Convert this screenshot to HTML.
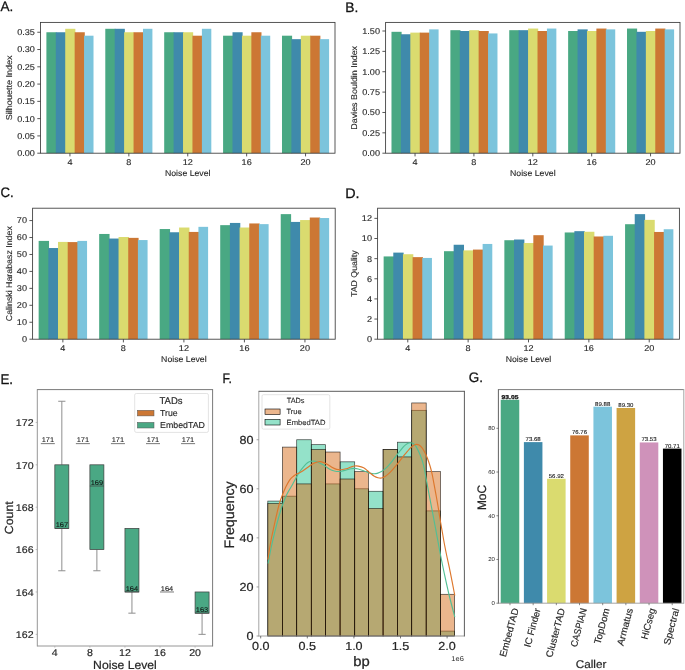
<!DOCTYPE html>
<html><head><meta charset="utf-8"><title>Figure</title>
<style>html,body{margin:0;padding:0;background:#fff;width:685px;height:670px;overflow:hidden;}
svg{display:block;will-change:transform;}text{font-family:"Liberation Sans",sans-serif;text-rendering:geometricPrecision;}</style></head>
<body>
<svg width="685" height="670" viewBox="0 0 685 670" font-family="Liberation Sans, sans-serif">
<rect x="0" y="0" width="685" height="670" fill="#ffffff"/>
<text x="0.4" y="10.6" font-size="13.78" text-anchor="start" fill="#111" textLength="12.8" lengthAdjust="spacingAndGlyphs" stroke="#111" stroke-width="0.26">A.</text>
<rect x="46.39" y="32.25" width="10.12" height="120.95" fill="#49a883"/>
<rect x="55.81" y="32.25" width="10.12" height="120.95" fill="#3f8aab"/>
<rect x="65.24" y="28.79" width="10.12" height="124.41" fill="#dadb6f"/>
<rect x="74.66" y="32.25" width="10.12" height="120.95" fill="#cc7734"/>
<rect x="84.09" y="35.7" width="9.42" height="117.5" fill="#7cc4dc"/>
<rect x="105.29" y="28.79" width="10.12" height="124.41" fill="#49a883"/>
<rect x="114.71" y="28.79" width="10.12" height="124.41" fill="#3f8aab"/>
<rect x="124.14" y="32.25" width="10.12" height="120.95" fill="#dadb6f"/>
<rect x="133.56" y="32.25" width="10.12" height="120.95" fill="#cc7734"/>
<rect x="142.99" y="28.79" width="9.42" height="124.41" fill="#7cc4dc"/>
<rect x="164.19" y="32.25" width="10.12" height="120.95" fill="#49a883"/>
<rect x="173.61" y="32.25" width="10.12" height="120.95" fill="#3f8aab"/>
<rect x="183.04" y="32.25" width="10.12" height="120.95" fill="#dadb6f"/>
<rect x="192.46" y="35.7" width="10.12" height="117.5" fill="#cc7734"/>
<rect x="201.89" y="28.79" width="9.42" height="124.41" fill="#7cc4dc"/>
<rect x="223.09" y="35.7" width="10.12" height="117.5" fill="#49a883"/>
<rect x="232.51" y="32.25" width="10.12" height="120.95" fill="#3f8aab"/>
<rect x="241.94" y="35.7" width="10.12" height="117.5" fill="#dadb6f"/>
<rect x="251.36" y="32.25" width="10.12" height="120.95" fill="#cc7734"/>
<rect x="260.79" y="35.7" width="9.42" height="117.5" fill="#7cc4dc"/>
<rect x="281.99" y="35.7" width="10.12" height="117.5" fill="#49a883"/>
<rect x="291.41" y="39.16" width="10.12" height="114.04" fill="#3f8aab"/>
<rect x="300.84" y="35.7" width="10.12" height="117.5" fill="#dadb6f"/>
<rect x="310.26" y="35.7" width="10.12" height="117.5" fill="#cc7734"/>
<rect x="319.69" y="39.16" width="9.42" height="114.04" fill="#7cc4dc"/>
<rect x="40.5" y="22.4" width="294.5" height="130.8" fill="none" stroke="#3a3a3a" stroke-width="0.85"/>
<line x1="37.3" y1="153.2" x2="40.5" y2="153.2" stroke="#3a3a3a" stroke-width="0.85"/>
<text x="34.9" y="156.1" font-size="8.43" text-anchor="end" fill="#262626" textLength="17.7" lengthAdjust="spacingAndGlyphs" stroke="#262626" stroke-width="0.12">0.00</text>
<line x1="37.3" y1="135.92" x2="40.5" y2="135.92" stroke="#3a3a3a" stroke-width="0.85"/>
<text x="34.9" y="138.82" font-size="8.43" text-anchor="end" fill="#262626" textLength="17.7" lengthAdjust="spacingAndGlyphs" stroke="#262626" stroke-width="0.12">0.05</text>
<line x1="37.3" y1="118.64" x2="40.5" y2="118.64" stroke="#3a3a3a" stroke-width="0.85"/>
<text x="34.9" y="121.54" font-size="8.43" text-anchor="end" fill="#262626" textLength="17.7" lengthAdjust="spacingAndGlyphs" stroke="#262626" stroke-width="0.12">0.10</text>
<line x1="37.3" y1="101.36" x2="40.5" y2="101.36" stroke="#3a3a3a" stroke-width="0.85"/>
<text x="34.9" y="104.26" font-size="8.43" text-anchor="end" fill="#262626" textLength="17.7" lengthAdjust="spacingAndGlyphs" stroke="#262626" stroke-width="0.12">0.15</text>
<line x1="37.3" y1="84.09" x2="40.5" y2="84.09" stroke="#3a3a3a" stroke-width="0.85"/>
<text x="34.9" y="86.98" font-size="8.43" text-anchor="end" fill="#262626" textLength="17.7" lengthAdjust="spacingAndGlyphs" stroke="#262626" stroke-width="0.12">0.20</text>
<line x1="37.3" y1="66.81" x2="40.5" y2="66.81" stroke="#3a3a3a" stroke-width="0.85"/>
<text x="34.9" y="69.7" font-size="8.43" text-anchor="end" fill="#262626" textLength="17.7" lengthAdjust="spacingAndGlyphs" stroke="#262626" stroke-width="0.12">0.25</text>
<line x1="37.3" y1="49.53" x2="40.5" y2="49.53" stroke="#3a3a3a" stroke-width="0.85"/>
<text x="34.9" y="52.43" font-size="8.43" text-anchor="end" fill="#262626" textLength="17.7" lengthAdjust="spacingAndGlyphs" stroke="#262626" stroke-width="0.12">0.30</text>
<line x1="37.3" y1="32.25" x2="40.5" y2="32.25" stroke="#3a3a3a" stroke-width="0.85"/>
<text x="34.9" y="35.15" font-size="8.43" text-anchor="end" fill="#262626" textLength="17.7" lengthAdjust="spacingAndGlyphs" stroke="#262626" stroke-width="0.12">0.35</text>
<line x1="69.95" y1="153.2" x2="69.95" y2="156.4" stroke="#3a3a3a" stroke-width="0.85"/>
<text x="69.95" y="165.2" font-size="8.43" text-anchor="middle" fill="#262626" textLength="5.06" lengthAdjust="spacingAndGlyphs" stroke="#262626" stroke-width="0.12">4</text>
<line x1="128.85" y1="153.2" x2="128.85" y2="156.4" stroke="#3a3a3a" stroke-width="0.85"/>
<text x="128.85" y="165.2" font-size="8.43" text-anchor="middle" fill="#262626" textLength="5.06" lengthAdjust="spacingAndGlyphs" stroke="#262626" stroke-width="0.12">8</text>
<line x1="187.75" y1="153.2" x2="187.75" y2="156.4" stroke="#3a3a3a" stroke-width="0.85"/>
<text x="187.75" y="165.2" font-size="8.43" text-anchor="middle" fill="#262626" textLength="10.12" lengthAdjust="spacingAndGlyphs" stroke="#262626" stroke-width="0.12">12</text>
<line x1="246.65" y1="153.2" x2="246.65" y2="156.4" stroke="#3a3a3a" stroke-width="0.85"/>
<text x="246.65" y="165.2" font-size="8.43" text-anchor="middle" fill="#262626" textLength="10.12" lengthAdjust="spacingAndGlyphs" stroke="#262626" stroke-width="0.12">16</text>
<line x1="305.55" y1="153.2" x2="305.55" y2="156.4" stroke="#3a3a3a" stroke-width="0.85"/>
<text x="305.55" y="165.2" font-size="8.43" text-anchor="middle" fill="#262626" textLength="10.12" lengthAdjust="spacingAndGlyphs" stroke="#262626" stroke-width="0.12">20</text>
<text x="187.75" y="175.6" font-size="8.43" text-anchor="middle" fill="#262626" textLength="45.56" lengthAdjust="spacingAndGlyphs" stroke="#262626" stroke-width="0.12">Noise Level</text>
<text x="12.2" y="87.8" font-size="8.43" text-anchor="middle" fill="#262626" textLength="64.84" lengthAdjust="spacingAndGlyphs" stroke="#262626" stroke-width="0.12" transform="rotate(-90 12.2 87.8)">Silhouette Index</text>
<text x="345.2" y="11.9" font-size="13.78" text-anchor="start" fill="#111" textLength="13.05" lengthAdjust="spacingAndGlyphs" stroke="#111" stroke-width="0.26">B.</text>
<rect x="391.49" y="31.81" width="10.12" height="121.39" fill="#49a883"/>
<rect x="400.91" y="34.25" width="10.12" height="118.95" fill="#3f8aab"/>
<rect x="410.33" y="32.62" width="10.12" height="120.58" fill="#dadb6f"/>
<rect x="419.75" y="32.62" width="10.12" height="120.58" fill="#cc7734"/>
<rect x="429.17" y="29.37" width="9.42" height="123.83" fill="#7cc4dc"/>
<rect x="450.37" y="30.18" width="10.12" height="123.02" fill="#49a883"/>
<rect x="459.79" y="31" width="10.12" height="122.2" fill="#3f8aab"/>
<rect x="469.21" y="30.18" width="10.12" height="123.02" fill="#dadb6f"/>
<rect x="478.63" y="31" width="10.12" height="122.2" fill="#cc7734"/>
<rect x="488.05" y="33.44" width="9.42" height="119.76" fill="#7cc4dc"/>
<rect x="509.25" y="30.18" width="10.12" height="123.02" fill="#49a883"/>
<rect x="518.67" y="30.18" width="10.12" height="123.02" fill="#3f8aab"/>
<rect x="528.09" y="28.55" width="10.12" height="124.65" fill="#dadb6f"/>
<rect x="537.51" y="31" width="10.12" height="122.2" fill="#cc7734"/>
<rect x="546.93" y="28.55" width="9.42" height="124.65" fill="#7cc4dc"/>
<rect x="568.13" y="31" width="10.12" height="122.2" fill="#49a883"/>
<rect x="577.55" y="29.37" width="10.12" height="123.83" fill="#3f8aab"/>
<rect x="586.97" y="31" width="10.12" height="122.2" fill="#dadb6f"/>
<rect x="596.39" y="28.55" width="10.12" height="124.65" fill="#cc7734"/>
<rect x="605.81" y="29.37" width="9.42" height="123.83" fill="#7cc4dc"/>
<rect x="627.01" y="28.55" width="10.12" height="124.65" fill="#49a883"/>
<rect x="636.43" y="31.81" width="10.12" height="121.39" fill="#3f8aab"/>
<rect x="645.85" y="31" width="10.12" height="122.2" fill="#dadb6f"/>
<rect x="655.27" y="28.55" width="10.12" height="124.65" fill="#cc7734"/>
<rect x="664.69" y="29.37" width="9.42" height="123.83" fill="#7cc4dc"/>
<rect x="385.6" y="22.4" width="294.4" height="130.8" fill="none" stroke="#3a3a3a" stroke-width="0.85"/>
<line x1="382.4" y1="153.2" x2="385.6" y2="153.2" stroke="#3a3a3a" stroke-width="0.85"/>
<text x="380" y="156.1" font-size="8.43" text-anchor="end" fill="#262626" textLength="17.7" lengthAdjust="spacingAndGlyphs" stroke="#262626" stroke-width="0.12">0.00</text>
<line x1="382.4" y1="132.83" x2="385.6" y2="132.83" stroke="#3a3a3a" stroke-width="0.85"/>
<text x="380" y="135.73" font-size="8.43" text-anchor="end" fill="#262626" textLength="17.7" lengthAdjust="spacingAndGlyphs" stroke="#262626" stroke-width="0.12">0.25</text>
<line x1="382.4" y1="112.47" x2="385.6" y2="112.47" stroke="#3a3a3a" stroke-width="0.85"/>
<text x="380" y="115.36" font-size="8.43" text-anchor="end" fill="#262626" textLength="17.7" lengthAdjust="spacingAndGlyphs" stroke="#262626" stroke-width="0.12">0.50</text>
<line x1="382.4" y1="92.1" x2="385.6" y2="92.1" stroke="#3a3a3a" stroke-width="0.85"/>
<text x="380" y="95" font-size="8.43" text-anchor="end" fill="#262626" textLength="17.7" lengthAdjust="spacingAndGlyphs" stroke="#262626" stroke-width="0.12">0.75</text>
<line x1="382.4" y1="71.73" x2="385.6" y2="71.73" stroke="#3a3a3a" stroke-width="0.85"/>
<text x="380" y="74.63" font-size="8.43" text-anchor="end" fill="#262626" textLength="17.7" lengthAdjust="spacingAndGlyphs" stroke="#262626" stroke-width="0.12">1.00</text>
<line x1="382.4" y1="51.36" x2="385.6" y2="51.36" stroke="#3a3a3a" stroke-width="0.85"/>
<text x="380" y="54.26" font-size="8.43" text-anchor="end" fill="#262626" textLength="17.7" lengthAdjust="spacingAndGlyphs" stroke="#262626" stroke-width="0.12">1.25</text>
<line x1="382.4" y1="31" x2="385.6" y2="31" stroke="#3a3a3a" stroke-width="0.85"/>
<text x="380" y="33.89" font-size="8.43" text-anchor="end" fill="#262626" textLength="17.7" lengthAdjust="spacingAndGlyphs" stroke="#262626" stroke-width="0.12">1.50</text>
<line x1="415.04" y1="153.2" x2="415.04" y2="156.4" stroke="#3a3a3a" stroke-width="0.85"/>
<text x="415.04" y="165.2" font-size="8.43" text-anchor="middle" fill="#262626" textLength="5.06" lengthAdjust="spacingAndGlyphs" stroke="#262626" stroke-width="0.12">4</text>
<line x1="473.92" y1="153.2" x2="473.92" y2="156.4" stroke="#3a3a3a" stroke-width="0.85"/>
<text x="473.92" y="165.2" font-size="8.43" text-anchor="middle" fill="#262626" textLength="5.06" lengthAdjust="spacingAndGlyphs" stroke="#262626" stroke-width="0.12">8</text>
<line x1="532.8" y1="153.2" x2="532.8" y2="156.4" stroke="#3a3a3a" stroke-width="0.85"/>
<text x="532.8" y="165.2" font-size="8.43" text-anchor="middle" fill="#262626" textLength="10.12" lengthAdjust="spacingAndGlyphs" stroke="#262626" stroke-width="0.12">12</text>
<line x1="591.68" y1="153.2" x2="591.68" y2="156.4" stroke="#3a3a3a" stroke-width="0.85"/>
<text x="591.68" y="165.2" font-size="8.43" text-anchor="middle" fill="#262626" textLength="10.12" lengthAdjust="spacingAndGlyphs" stroke="#262626" stroke-width="0.12">16</text>
<line x1="650.56" y1="153.2" x2="650.56" y2="156.4" stroke="#3a3a3a" stroke-width="0.85"/>
<text x="650.56" y="165.2" font-size="8.43" text-anchor="middle" fill="#262626" textLength="10.12" lengthAdjust="spacingAndGlyphs" stroke="#262626" stroke-width="0.12">20</text>
<text x="532.8" y="175.6" font-size="8.43" text-anchor="middle" fill="#262626" textLength="45.56" lengthAdjust="spacingAndGlyphs" stroke="#262626" stroke-width="0.12">Noise Level</text>
<text x="357.2" y="87.8" font-size="8.43" text-anchor="middle" fill="#262626" textLength="83.74" lengthAdjust="spacingAndGlyphs" stroke="#262626" stroke-width="0.12" transform="rotate(-90 357.2 87.8)">Davies Bouldin Index</text>
<text x="0.4" y="197.2" font-size="13.78" text-anchor="start" fill="#111" textLength="13.21" lengthAdjust="spacingAndGlyphs" stroke="#111" stroke-width="0.26">C.</text>
<rect x="38.65" y="240.91" width="10.38" height="98.29" fill="#49a883"/>
<rect x="48.34" y="248.03" width="10.38" height="91.17" fill="#3f8aab"/>
<rect x="58.02" y="241.92" width="10.38" height="97.28" fill="#dadb6f"/>
<rect x="67.7" y="242.09" width="10.38" height="97.11" fill="#cc7734"/>
<rect x="77.38" y="240.91" width="9.68" height="98.29" fill="#7cc4dc"/>
<rect x="99.17" y="233.96" width="10.38" height="105.24" fill="#49a883"/>
<rect x="108.86" y="238.54" width="10.38" height="100.66" fill="#3f8aab"/>
<rect x="118.54" y="237.01" width="10.38" height="102.19" fill="#dadb6f"/>
<rect x="128.22" y="237.86" width="10.38" height="101.34" fill="#cc7734"/>
<rect x="137.9" y="240.06" width="9.68" height="99.14" fill="#7cc4dc"/>
<rect x="159.69" y="229.04" width="10.38" height="110.16" fill="#49a883"/>
<rect x="169.38" y="232.26" width="10.38" height="106.94" fill="#3f8aab"/>
<rect x="179.06" y="227.52" width="10.38" height="111.68" fill="#dadb6f"/>
<rect x="188.74" y="231.93" width="10.38" height="107.27" fill="#cc7734"/>
<rect x="198.42" y="226.84" width="9.68" height="112.36" fill="#7cc4dc"/>
<rect x="220.21" y="225.15" width="10.38" height="114.05" fill="#49a883"/>
<rect x="229.9" y="222.94" width="10.38" height="116.26" fill="#3f8aab"/>
<rect x="239.58" y="227.52" width="10.38" height="111.68" fill="#dadb6f"/>
<rect x="249.26" y="223.45" width="10.38" height="115.75" fill="#cc7734"/>
<rect x="258.94" y="224.13" width="9.68" height="115.07" fill="#7cc4dc"/>
<rect x="280.73" y="214.13" width="10.38" height="125.07" fill="#49a883"/>
<rect x="290.42" y="221.93" width="10.38" height="117.27" fill="#3f8aab"/>
<rect x="300.1" y="220.06" width="10.38" height="119.14" fill="#dadb6f"/>
<rect x="309.78" y="217.52" width="10.38" height="121.68" fill="#cc7734"/>
<rect x="319.46" y="218.03" width="9.68" height="121.17" fill="#7cc4dc"/>
<rect x="32.6" y="208.2" width="302.6" height="131" fill="none" stroke="#3a3a3a" stroke-width="0.85"/>
<line x1="29.4" y1="339.2" x2="32.6" y2="339.2" stroke="#3a3a3a" stroke-width="0.85"/>
<text x="27" y="342.1" font-size="8.43" text-anchor="end" fill="#262626" textLength="5.06" lengthAdjust="spacingAndGlyphs" stroke="#262626" stroke-width="0.12">0</text>
<line x1="29.4" y1="322.25" x2="32.6" y2="322.25" stroke="#3a3a3a" stroke-width="0.85"/>
<text x="27" y="325.15" font-size="8.43" text-anchor="end" fill="#262626" textLength="10.12" lengthAdjust="spacingAndGlyphs" stroke="#262626" stroke-width="0.12">10</text>
<line x1="29.4" y1="305.31" x2="32.6" y2="305.31" stroke="#3a3a3a" stroke-width="0.85"/>
<text x="27" y="308.2" font-size="8.43" text-anchor="end" fill="#262626" textLength="10.12" lengthAdjust="spacingAndGlyphs" stroke="#262626" stroke-width="0.12">20</text>
<line x1="29.4" y1="288.36" x2="32.6" y2="288.36" stroke="#3a3a3a" stroke-width="0.85"/>
<text x="27" y="291.26" font-size="8.43" text-anchor="end" fill="#262626" textLength="10.12" lengthAdjust="spacingAndGlyphs" stroke="#262626" stroke-width="0.12">30</text>
<line x1="29.4" y1="271.41" x2="32.6" y2="271.41" stroke="#3a3a3a" stroke-width="0.85"/>
<text x="27" y="274.31" font-size="8.43" text-anchor="end" fill="#262626" textLength="10.12" lengthAdjust="spacingAndGlyphs" stroke="#262626" stroke-width="0.12">40</text>
<line x1="29.4" y1="254.47" x2="32.6" y2="254.47" stroke="#3a3a3a" stroke-width="0.85"/>
<text x="27" y="257.36" font-size="8.43" text-anchor="end" fill="#262626" textLength="10.12" lengthAdjust="spacingAndGlyphs" stroke="#262626" stroke-width="0.12">50</text>
<line x1="29.4" y1="237.52" x2="32.6" y2="237.52" stroke="#3a3a3a" stroke-width="0.85"/>
<text x="27" y="240.42" font-size="8.43" text-anchor="end" fill="#262626" textLength="10.12" lengthAdjust="spacingAndGlyphs" stroke="#262626" stroke-width="0.12">60</text>
<line x1="29.4" y1="220.57" x2="32.6" y2="220.57" stroke="#3a3a3a" stroke-width="0.85"/>
<text x="27" y="223.47" font-size="8.43" text-anchor="end" fill="#262626" textLength="10.12" lengthAdjust="spacingAndGlyphs" stroke="#262626" stroke-width="0.12">70</text>
<line x1="62.86" y1="339.2" x2="62.86" y2="342.4" stroke="#3a3a3a" stroke-width="0.85"/>
<text x="62.86" y="351.2" font-size="8.43" text-anchor="middle" fill="#262626" textLength="5.06" lengthAdjust="spacingAndGlyphs" stroke="#262626" stroke-width="0.12">4</text>
<line x1="123.38" y1="339.2" x2="123.38" y2="342.4" stroke="#3a3a3a" stroke-width="0.85"/>
<text x="123.38" y="351.2" font-size="8.43" text-anchor="middle" fill="#262626" textLength="5.06" lengthAdjust="spacingAndGlyphs" stroke="#262626" stroke-width="0.12">8</text>
<line x1="183.9" y1="339.2" x2="183.9" y2="342.4" stroke="#3a3a3a" stroke-width="0.85"/>
<text x="183.9" y="351.2" font-size="8.43" text-anchor="middle" fill="#262626" textLength="10.12" lengthAdjust="spacingAndGlyphs" stroke="#262626" stroke-width="0.12">12</text>
<line x1="244.42" y1="339.2" x2="244.42" y2="342.4" stroke="#3a3a3a" stroke-width="0.85"/>
<text x="244.42" y="351.2" font-size="8.43" text-anchor="middle" fill="#262626" textLength="10.12" lengthAdjust="spacingAndGlyphs" stroke="#262626" stroke-width="0.12">16</text>
<line x1="304.94" y1="339.2" x2="304.94" y2="342.4" stroke="#3a3a3a" stroke-width="0.85"/>
<text x="304.94" y="351.2" font-size="8.43" text-anchor="middle" fill="#262626" textLength="10.12" lengthAdjust="spacingAndGlyphs" stroke="#262626" stroke-width="0.12">20</text>
<text x="183.9" y="361.6" font-size="8.43" text-anchor="middle" fill="#262626" textLength="45.56" lengthAdjust="spacingAndGlyphs" stroke="#262626" stroke-width="0.12">Noise Level</text>
<text x="12.2" y="273.7" font-size="8.43" text-anchor="middle" fill="#262626" textLength="95" lengthAdjust="spacingAndGlyphs" stroke="#262626" stroke-width="0.12" transform="rotate(-90 12.2 273.7)">Calinski Harabasz Index</text>
<text x="345.2" y="197.5" font-size="13.99" text-anchor="start" fill="#111" textLength="14.36" lengthAdjust="spacingAndGlyphs" stroke="#111" stroke-width="0.26">D.</text>
<rect x="383.64" y="256.43" width="10.36" height="82.77" fill="#49a883"/>
<rect x="393.29" y="252.61" width="10.36" height="86.59" fill="#3f8aab"/>
<rect x="402.95" y="254.22" width="10.36" height="84.98" fill="#dadb6f"/>
<rect x="412.61" y="257.14" width="10.36" height="82.06" fill="#cc7734"/>
<rect x="422.27" y="257.94" width="9.66" height="81.26" fill="#7cc4dc"/>
<rect x="444" y="251.2" width="10.36" height="88" fill="#49a883"/>
<rect x="453.65" y="244.75" width="10.36" height="94.45" fill="#3f8aab"/>
<rect x="463.31" y="250.39" width="10.36" height="88.81" fill="#dadb6f"/>
<rect x="472.97" y="249.58" width="10.36" height="89.62" fill="#cc7734"/>
<rect x="482.63" y="243.95" width="9.66" height="95.25" fill="#7cc4dc"/>
<rect x="504.36" y="240.22" width="10.36" height="98.98" fill="#49a883"/>
<rect x="514.01" y="239.52" width="10.36" height="99.68" fill="#3f8aab"/>
<rect x="523.67" y="243.04" width="10.36" height="96.16" fill="#dadb6f"/>
<rect x="533.33" y="235.19" width="10.36" height="104.01" fill="#cc7734"/>
<rect x="542.99" y="245.56" width="9.66" height="93.64" fill="#7cc4dc"/>
<rect x="564.72" y="232.47" width="10.36" height="106.73" fill="#49a883"/>
<rect x="574.37" y="231.16" width="10.36" height="108.04" fill="#3f8aab"/>
<rect x="584.03" y="231.76" width="10.36" height="107.44" fill="#dadb6f"/>
<rect x="593.69" y="236.49" width="10.36" height="102.71" fill="#cc7734"/>
<rect x="603.35" y="235.79" width="9.66" height="103.41" fill="#7cc4dc"/>
<rect x="625.08" y="224.21" width="10.36" height="114.99" fill="#49a883"/>
<rect x="634.73" y="214.14" width="10.36" height="125.06" fill="#3f8aab"/>
<rect x="644.39" y="219.88" width="10.36" height="119.32" fill="#dadb6f"/>
<rect x="654.05" y="231.96" width="10.36" height="107.24" fill="#cc7734"/>
<rect x="663.71" y="229.24" width="9.66" height="109.96" fill="#7cc4dc"/>
<rect x="377.6" y="208.2" width="301.8" height="131" fill="none" stroke="#3a3a3a" stroke-width="0.85"/>
<line x1="374.4" y1="339.2" x2="377.6" y2="339.2" stroke="#3a3a3a" stroke-width="0.85"/>
<text x="372" y="342.1" font-size="8.43" text-anchor="end" fill="#262626" textLength="5.06" lengthAdjust="spacingAndGlyphs" stroke="#262626" stroke-width="0.12">0</text>
<line x1="374.4" y1="319.06" x2="377.6" y2="319.06" stroke="#3a3a3a" stroke-width="0.85"/>
<text x="372" y="321.96" font-size="8.43" text-anchor="end" fill="#262626" textLength="5.06" lengthAdjust="spacingAndGlyphs" stroke="#262626" stroke-width="0.12">2</text>
<line x1="374.4" y1="298.92" x2="377.6" y2="298.92" stroke="#3a3a3a" stroke-width="0.85"/>
<text x="372" y="301.82" font-size="8.43" text-anchor="end" fill="#262626" textLength="5.06" lengthAdjust="spacingAndGlyphs" stroke="#262626" stroke-width="0.12">4</text>
<line x1="374.4" y1="278.78" x2="377.6" y2="278.78" stroke="#3a3a3a" stroke-width="0.85"/>
<text x="372" y="281.68" font-size="8.43" text-anchor="end" fill="#262626" textLength="5.06" lengthAdjust="spacingAndGlyphs" stroke="#262626" stroke-width="0.12">6</text>
<line x1="374.4" y1="258.65" x2="377.6" y2="258.65" stroke="#3a3a3a" stroke-width="0.85"/>
<text x="372" y="261.54" font-size="8.43" text-anchor="end" fill="#262626" textLength="5.06" lengthAdjust="spacingAndGlyphs" stroke="#262626" stroke-width="0.12">8</text>
<line x1="374.4" y1="238.51" x2="377.6" y2="238.51" stroke="#3a3a3a" stroke-width="0.85"/>
<text x="372" y="241.41" font-size="8.43" text-anchor="end" fill="#262626" textLength="10.12" lengthAdjust="spacingAndGlyphs" stroke="#262626" stroke-width="0.12">10</text>
<line x1="374.4" y1="218.37" x2="377.6" y2="218.37" stroke="#3a3a3a" stroke-width="0.85"/>
<text x="372" y="221.27" font-size="8.43" text-anchor="end" fill="#262626" textLength="10.12" lengthAdjust="spacingAndGlyphs" stroke="#262626" stroke-width="0.12">12</text>
<line x1="407.78" y1="339.2" x2="407.78" y2="342.4" stroke="#3a3a3a" stroke-width="0.85"/>
<text x="407.78" y="351.2" font-size="8.43" text-anchor="middle" fill="#262626" textLength="5.06" lengthAdjust="spacingAndGlyphs" stroke="#262626" stroke-width="0.12">4</text>
<line x1="468.14" y1="339.2" x2="468.14" y2="342.4" stroke="#3a3a3a" stroke-width="0.85"/>
<text x="468.14" y="351.2" font-size="8.43" text-anchor="middle" fill="#262626" textLength="5.06" lengthAdjust="spacingAndGlyphs" stroke="#262626" stroke-width="0.12">8</text>
<line x1="528.5" y1="339.2" x2="528.5" y2="342.4" stroke="#3a3a3a" stroke-width="0.85"/>
<text x="528.5" y="351.2" font-size="8.43" text-anchor="middle" fill="#262626" textLength="10.12" lengthAdjust="spacingAndGlyphs" stroke="#262626" stroke-width="0.12">12</text>
<line x1="588.86" y1="339.2" x2="588.86" y2="342.4" stroke="#3a3a3a" stroke-width="0.85"/>
<text x="588.86" y="351.2" font-size="8.43" text-anchor="middle" fill="#262626" textLength="10.12" lengthAdjust="spacingAndGlyphs" stroke="#262626" stroke-width="0.12">16</text>
<line x1="649.22" y1="339.2" x2="649.22" y2="342.4" stroke="#3a3a3a" stroke-width="0.85"/>
<text x="649.22" y="351.2" font-size="8.43" text-anchor="middle" fill="#262626" textLength="10.12" lengthAdjust="spacingAndGlyphs" stroke="#262626" stroke-width="0.12">20</text>
<text x="528.5" y="361.6" font-size="8.43" text-anchor="middle" fill="#262626" textLength="45.56" lengthAdjust="spacingAndGlyphs" stroke="#262626" stroke-width="0.12">Noise Level</text>
<text x="357.2" y="273.7" font-size="8.43" text-anchor="middle" fill="#262626" textLength="46.73" lengthAdjust="spacingAndGlyphs" stroke="#262626" stroke-width="0.12" transform="rotate(-90 357.2 273.7)">TAD Quality</text>
<text x="0.4" y="384.3" font-size="14.1" text-anchor="start" fill="#111" textLength="12.63" lengthAdjust="spacingAndGlyphs" stroke="#111" stroke-width="0.26">E.</text>
<line x1="40.83" y1="443.63" x2="54.83" y2="443.63" stroke="#555555" stroke-width="0.8"/>
<text x="47.83" y="442.43" font-size="6.89" text-anchor="middle" fill="#222" textLength="12.41" lengthAdjust="spacingAndGlyphs" stroke="#222" stroke-width="0.08">171</text>
<line x1="61.83" y1="401.25" x2="61.83" y2="464.82" stroke="#8e8e8e" stroke-width="1"/>
<line x1="58.23" y1="401.25" x2="65.43" y2="401.25" stroke="#8e8e8e" stroke-width="1"/>
<line x1="61.83" y1="528.4" x2="61.83" y2="570.78" stroke="#8e8e8e" stroke-width="1"/>
<line x1="58.23" y1="570.78" x2="65.43" y2="570.78" stroke="#8e8e8e" stroke-width="1"/>
<rect x="54.83" y="464.82" width="14" height="63.57" fill="#4aa884" stroke="#3c3c3c" stroke-width="0.7"/>
<line x1="54.83" y1="528.4" x2="68.83" y2="528.4" stroke="#3c3c3c" stroke-width="0.7"/>
<text x="61.83" y="527.2" font-size="6.89" text-anchor="middle" fill="#111" textLength="12.41" lengthAdjust="spacingAndGlyphs" stroke="#111" stroke-width="0.08">167</text>
<line x1="75.89" y1="443.63" x2="89.89" y2="443.63" stroke="#555555" stroke-width="0.8"/>
<text x="82.89" y="442.43" font-size="6.89" text-anchor="middle" fill="#222" textLength="12.41" lengthAdjust="spacingAndGlyphs" stroke="#222" stroke-width="0.08">171</text>
<line x1="96.89" y1="549.59" x2="96.89" y2="570.78" stroke="#8e8e8e" stroke-width="1"/>
<line x1="93.29" y1="570.78" x2="100.49" y2="570.78" stroke="#8e8e8e" stroke-width="1"/>
<rect x="89.89" y="464.82" width="14" height="84.76" fill="#4aa884" stroke="#3c3c3c" stroke-width="0.7"/>
<line x1="89.89" y1="486.01" x2="103.89" y2="486.01" stroke="#3c3c3c" stroke-width="0.7"/>
<text x="96.89" y="484.81" font-size="6.89" text-anchor="middle" fill="#111" textLength="12.41" lengthAdjust="spacingAndGlyphs" stroke="#111" stroke-width="0.08">169</text>
<line x1="110.95" y1="443.63" x2="124.95" y2="443.63" stroke="#555555" stroke-width="0.8"/>
<text x="117.95" y="442.43" font-size="6.89" text-anchor="middle" fill="#222" textLength="12.41" lengthAdjust="spacingAndGlyphs" stroke="#222" stroke-width="0.08">171</text>
<line x1="131.95" y1="591.97" x2="131.95" y2="613.16" stroke="#8e8e8e" stroke-width="1"/>
<line x1="128.35" y1="613.16" x2="135.55" y2="613.16" stroke="#8e8e8e" stroke-width="1"/>
<rect x="124.95" y="528.4" width="14" height="63.57" fill="#4aa884" stroke="#3c3c3c" stroke-width="0.7"/>
<line x1="124.95" y1="591.97" x2="138.95" y2="591.97" stroke="#3c3c3c" stroke-width="0.7"/>
<text x="131.95" y="590.77" font-size="6.89" text-anchor="middle" fill="#111" textLength="12.41" lengthAdjust="spacingAndGlyphs" stroke="#111" stroke-width="0.08">164</text>
<line x1="146.01" y1="443.63" x2="160.01" y2="443.63" stroke="#555555" stroke-width="0.8"/>
<text x="153.01" y="442.43" font-size="6.89" text-anchor="middle" fill="#222" textLength="12.41" lengthAdjust="spacingAndGlyphs" stroke="#222" stroke-width="0.08">171</text>
<line x1="160.01" y1="591.97" x2="174.01" y2="591.97" stroke="#555555" stroke-width="0.8"/>
<text x="167.01" y="590.77" font-size="6.89" text-anchor="middle" fill="#111" textLength="12.41" lengthAdjust="spacingAndGlyphs" stroke="#111" stroke-width="0.08">164</text>
<line x1="181.07" y1="443.63" x2="195.07" y2="443.63" stroke="#555555" stroke-width="0.8"/>
<text x="188.07" y="442.43" font-size="6.89" text-anchor="middle" fill="#222" textLength="12.41" lengthAdjust="spacingAndGlyphs" stroke="#222" stroke-width="0.08">171</text>
<line x1="202.07" y1="613.16" x2="202.07" y2="634.35" stroke="#8e8e8e" stroke-width="1"/>
<line x1="198.47" y1="634.35" x2="205.67" y2="634.35" stroke="#8e8e8e" stroke-width="1"/>
<rect x="195.07" y="591.97" width="14" height="21.19" fill="#4aa884" stroke="#3c3c3c" stroke-width="0.7"/>
<line x1="195.07" y1="613.16" x2="209.07" y2="613.16" stroke="#3c3c3c" stroke-width="0.7"/>
<text x="202.07" y="611.96" font-size="6.89" text-anchor="middle" fill="#111" textLength="12.41" lengthAdjust="spacingAndGlyphs" stroke="#111" stroke-width="0.08">163</text>
<line x1="37.3" y1="389.15" x2="37.3" y2="646.45" stroke="#8a8a8a" stroke-width="0.9"/>
<line x1="37.3" y1="646" x2="212.6" y2="646" stroke="#8a8a8a" stroke-width="0.9"/>
<line x1="37.3" y1="389.6" x2="212.6" y2="389.6" stroke="#6a6a6a" stroke-width="0.9"/>
<line x1="212.6" y1="389.15" x2="212.6" y2="646.45" stroke="#6a6a6a" stroke-width="0.9"/>
<line x1="35.7" y1="634.35" x2="37.3" y2="634.35" stroke="#aaaaaa" stroke-width="0.8"/>
<text x="33.6" y="638.05" font-size="9.86" text-anchor="end" fill="#262626" textLength="17.75" lengthAdjust="spacingAndGlyphs" stroke="#262626" stroke-width="0.16">162</text>
<line x1="35.7" y1="591.97" x2="37.3" y2="591.97" stroke="#aaaaaa" stroke-width="0.8"/>
<text x="33.6" y="595.67" font-size="9.86" text-anchor="end" fill="#262626" textLength="17.75" lengthAdjust="spacingAndGlyphs" stroke="#262626" stroke-width="0.16">164</text>
<line x1="35.7" y1="549.59" x2="37.3" y2="549.59" stroke="#aaaaaa" stroke-width="0.8"/>
<text x="33.6" y="553.29" font-size="9.86" text-anchor="end" fill="#262626" textLength="17.75" lengthAdjust="spacingAndGlyphs" stroke="#262626" stroke-width="0.16">166</text>
<line x1="35.7" y1="507.2" x2="37.3" y2="507.2" stroke="#aaaaaa" stroke-width="0.8"/>
<text x="33.6" y="510.9" font-size="9.86" text-anchor="end" fill="#262626" textLength="17.75" lengthAdjust="spacingAndGlyphs" stroke="#262626" stroke-width="0.16">168</text>
<line x1="35.7" y1="464.82" x2="37.3" y2="464.82" stroke="#aaaaaa" stroke-width="0.8"/>
<text x="33.6" y="468.52" font-size="9.86" text-anchor="end" fill="#262626" textLength="17.75" lengthAdjust="spacingAndGlyphs" stroke="#262626" stroke-width="0.16">170</text>
<line x1="35.7" y1="422.44" x2="37.3" y2="422.44" stroke="#aaaaaa" stroke-width="0.8"/>
<text x="33.6" y="426.14" font-size="9.86" text-anchor="end" fill="#262626" textLength="17.75" lengthAdjust="spacingAndGlyphs" stroke="#262626" stroke-width="0.16">172</text>
<line x1="54.83" y1="646" x2="54.83" y2="647.6" stroke="#aaaaaa" stroke-width="0.8"/>
<text x="54.83" y="656.3" font-size="9.86" text-anchor="middle" fill="#262626" textLength="5.92" lengthAdjust="spacingAndGlyphs" stroke="#262626" stroke-width="0.16">4</text>
<line x1="89.89" y1="646" x2="89.89" y2="647.6" stroke="#aaaaaa" stroke-width="0.8"/>
<text x="89.89" y="656.3" font-size="9.86" text-anchor="middle" fill="#262626" textLength="5.92" lengthAdjust="spacingAndGlyphs" stroke="#262626" stroke-width="0.16">8</text>
<line x1="124.95" y1="646" x2="124.95" y2="647.6" stroke="#aaaaaa" stroke-width="0.8"/>
<text x="124.95" y="656.3" font-size="9.86" text-anchor="middle" fill="#262626" textLength="11.83" lengthAdjust="spacingAndGlyphs" stroke="#262626" stroke-width="0.16">12</text>
<line x1="160.01" y1="646" x2="160.01" y2="647.6" stroke="#aaaaaa" stroke-width="0.8"/>
<text x="160.01" y="656.3" font-size="9.86" text-anchor="middle" fill="#262626" textLength="11.83" lengthAdjust="spacingAndGlyphs" stroke="#262626" stroke-width="0.16">16</text>
<line x1="195.07" y1="646" x2="195.07" y2="647.6" stroke="#aaaaaa" stroke-width="0.8"/>
<text x="195.07" y="656.3" font-size="9.86" text-anchor="middle" fill="#262626" textLength="11.83" lengthAdjust="spacingAndGlyphs" stroke="#262626" stroke-width="0.16">20</text>
<text x="124.95" y="668.8" font-size="11.77" text-anchor="middle" fill="#262626" textLength="63.62" lengthAdjust="spacingAndGlyphs" stroke="#262626" stroke-width="0.21">Noise Level</text>
<text x="12.6" y="517.8" font-size="11.77" text-anchor="middle" fill="#262626" textLength="32.97" lengthAdjust="spacingAndGlyphs" stroke="#262626" stroke-width="0.21" transform="rotate(-90 12.6 517.8)">Count</text>
<rect x="134.7" y="393.5" width="73.7" height="38.9" rx="1.6" fill="#ffffff" fill-opacity="0.8" stroke="#dcdcdc" stroke-width="0.8"/>
<text x="171" y="404.2" font-size="9.75" text-anchor="middle" fill="#262626" textLength="23.08" lengthAdjust="spacingAndGlyphs" stroke="#262626" stroke-width="0.16">TADs</text>
<rect x="137.4" y="410.3" width="16.6" height="5.6" fill="#cc7734" stroke="#555" stroke-width="0.5"/>
<text x="160" y="416.2" font-size="8.8" text-anchor="start" fill="#262626" textLength="17.63" lengthAdjust="spacingAndGlyphs" stroke="#262626" stroke-width="0.13">True</text>
<rect x="137.4" y="422.4" width="16.6" height="5.6" fill="#4aa884" stroke="#555" stroke-width="0.5"/>
<text x="160" y="428.2" font-size="8.69" text-anchor="start" fill="#262626" textLength="44.92" lengthAdjust="spacingAndGlyphs" stroke="#262626" stroke-width="0.13">EmbedTAD</text>
<text x="222.4" y="382.5" font-size="13.78" text-anchor="start" fill="#111" textLength="9.52" lengthAdjust="spacingAndGlyphs" stroke="#111" stroke-width="0.26">F.</text>
<rect x="267.8" y="501.08" width="14.6" height="134.92" fill="#29c593" fill-opacity="0.5" stroke="#000" stroke-opacity="0.72" stroke-width="0.7"/>
<rect x="282.4" y="496.17" width="14.3" height="139.83" fill="#29c593" fill-opacity="0.5" stroke="#000" stroke-opacity="0.72" stroke-width="0.7"/>
<rect x="296.7" y="439.75" width="14.6" height="196.25" fill="#29c593" fill-opacity="0.5" stroke="#000" stroke-opacity="0.72" stroke-width="0.7"/>
<rect x="311.3" y="444.66" width="14.3" height="191.34" fill="#29c593" fill-opacity="0.5" stroke="#000" stroke-opacity="0.72" stroke-width="0.7"/>
<rect x="325.6" y="483.91" width="14.5" height="152.09" fill="#29c593" fill-opacity="0.5" stroke="#000" stroke-opacity="0.72" stroke-width="0.7"/>
<rect x="340.1" y="461.83" width="14.6" height="174.17" fill="#29c593" fill-opacity="0.5" stroke="#000" stroke-opacity="0.72" stroke-width="0.7"/>
<rect x="354.7" y="488.81" width="13.8" height="147.19" fill="#29c593" fill-opacity="0.5" stroke="#000" stroke-opacity="0.72" stroke-width="0.7"/>
<rect x="368.5" y="491.27" width="14.6" height="144.73" fill="#29c593" fill-opacity="0.5" stroke="#000" stroke-opacity="0.72" stroke-width="0.7"/>
<rect x="383.1" y="449.56" width="14.3" height="186.44" fill="#29c593" fill-opacity="0.5" stroke="#000" stroke-opacity="0.72" stroke-width="0.7"/>
<rect x="397.4" y="442.2" width="14.3" height="193.8" fill="#29c593" fill-opacity="0.5" stroke="#000" stroke-opacity="0.72" stroke-width="0.7"/>
<rect x="411.7" y="410.31" width="14.5" height="225.69" fill="#29c593" fill-opacity="0.5" stroke="#000" stroke-opacity="0.72" stroke-width="0.7"/>
<rect x="426.2" y="510.89" width="14.3" height="125.11" fill="#29c593" fill-opacity="0.5" stroke="#000" stroke-opacity="0.72" stroke-width="0.7"/>
<rect x="440.5" y="631.09" width="14.1" height="4.91" fill="#29c593" fill-opacity="0.5" stroke="#000" stroke-opacity="0.72" stroke-width="0.7"/>
<rect x="267.8" y="503.53" width="14.6" height="132.47" fill="#d76d1b" fill-opacity="0.5" stroke="#000" stroke-opacity="0.72" stroke-width="0.7"/>
<rect x="282.4" y="447.11" width="14.3" height="188.89" fill="#d76d1b" fill-opacity="0.5" stroke="#000" stroke-opacity="0.72" stroke-width="0.7"/>
<rect x="296.7" y="483.91" width="14.6" height="152.09" fill="#d76d1b" fill-opacity="0.5" stroke="#000" stroke-opacity="0.72" stroke-width="0.7"/>
<rect x="311.3" y="449.56" width="14.3" height="186.44" fill="#d76d1b" fill-opacity="0.5" stroke="#000" stroke-opacity="0.72" stroke-width="0.7"/>
<rect x="325.6" y="452.02" width="14.5" height="183.98" fill="#d76d1b" fill-opacity="0.5" stroke="#000" stroke-opacity="0.72" stroke-width="0.7"/>
<rect x="340.1" y="479" width="14.6" height="157" fill="#d76d1b" fill-opacity="0.5" stroke="#000" stroke-opacity="0.72" stroke-width="0.7"/>
<rect x="354.7" y="471.64" width="13.8" height="164.36" fill="#d76d1b" fill-opacity="0.5" stroke="#000" stroke-opacity="0.72" stroke-width="0.7"/>
<rect x="368.5" y="508.44" width="14.6" height="127.56" fill="#d76d1b" fill-opacity="0.5" stroke="#000" stroke-opacity="0.72" stroke-width="0.7"/>
<rect x="383.1" y="449.56" width="14.3" height="186.44" fill="#d76d1b" fill-opacity="0.5" stroke="#000" stroke-opacity="0.72" stroke-width="0.7"/>
<rect x="397.4" y="456.92" width="14.3" height="179.08" fill="#d76d1b" fill-opacity="0.5" stroke="#000" stroke-opacity="0.72" stroke-width="0.7"/>
<rect x="411.7" y="402.95" width="14.5" height="233.05" fill="#d76d1b" fill-opacity="0.5" stroke="#000" stroke-opacity="0.72" stroke-width="0.7"/>
<rect x="426.2" y="471.64" width="14.3" height="164.36" fill="#d76d1b" fill-opacity="0.5" stroke="#000" stroke-opacity="0.72" stroke-width="0.7"/>
<rect x="440.5" y="594.3" width="14.1" height="41.7" fill="#d76d1b" fill-opacity="0.5" stroke="#000" stroke-opacity="0.72" stroke-width="0.7"/>
<path d="M268.1 563.5 C268.62 560.8 270.08 552.58 271.2 547.3 C272.32 542.02 273.62 536.57 274.8 531.8 C275.98 527.03 277.12 522.88 278.3 518.7 C279.48 514.52 280.7 510.28 281.9 506.7 C283.1 503.12 284.38 499.82 285.5 497.2 C286.62 494.58 287.65 492.73 288.6 491 C289.55 489.27 290.4 488.17 291.2 486.8 C292 485.43 292.58 484.32 293.4 482.8 C294.22 481.28 295.05 479.55 296.1 477.7 C297.15 475.85 298.4 473.6 299.7 471.7 C301 469.8 302.6 467.78 303.9 466.3 C305.2 464.82 306.32 463.63 307.5 462.8 C308.68 461.97 309.72 461.55 311 461.3 C312.28 461.05 313.9 461.05 315.2 461.3 C316.5 461.55 317.4 462.18 318.8 462.8 C320.2 463.42 322.2 464.2 323.6 465 C325 465.8 325.82 466.72 327.2 467.6 C328.58 468.48 330.32 469.65 331.9 470.3 C333.48 470.95 335.1 471.35 336.7 471.5 C338.3 471.65 339.9 471.45 341.5 471.2 C343.1 470.95 344.72 470.4 346.3 470 C347.88 469.6 349.62 469.07 351 468.8 C352.38 468.53 353.4 468.37 354.6 468.4 C355.8 468.43 356.7 468.62 358.2 469 C359.7 469.38 362.1 470.17 363.6 470.7 C365.1 471.23 366.02 471.75 367.2 472.2 C368.38 472.65 369.52 473.15 370.7 473.4 C371.88 473.65 373.1 473.75 374.3 473.7 C375.5 473.65 376.7 473.45 377.9 473.1 C379.1 472.75 380.3 472.3 381.5 471.6 C382.7 470.9 383.9 469.95 385.1 468.9 C386.3 467.85 387.52 466.6 388.7 465.3 C389.88 464 391.02 462.6 392.2 461.1 C393.38 459.6 394.5 457.98 395.8 456.3 C397.1 454.62 398.7 452.62 400 451 C401.3 449.38 402.4 447.82 403.6 446.6 C404.8 445.38 406.02 444.33 407.2 443.7 C408.38 443.07 409.72 442.85 410.7 442.8 C411.68 442.75 412.3 442.92 413.1 443.4 C413.9 443.88 414.7 444.62 415.5 445.7 C416.3 446.78 417.1 448.3 417.9 449.9 C418.7 451.5 419.52 453.3 420.3 455.3 C421.08 457.3 421.93 459.7 422.6 461.9 C423.27 464.1 423.75 465.93 424.3 468.5 C424.85 471.07 425.35 474.3 425.9 477.3 C426.45 480.3 427.02 483.38 427.6 486.5 C428.18 489.62 428.8 492.83 429.4 496 C430 499.17 430.55 502.08 431.2 505.5 C431.85 508.92 432.58 512.72 433.3 516.5 C434.02 520.28 434.77 524.28 435.5 528.2 C436.23 532.12 436.82 535.28 437.7 540 C438.58 544.72 439.7 550.92 440.8 556.5 C441.9 562.08 442.92 567.08 444.3 573.5 C445.68 579.92 447.35 587.75 449.1 595 C450.85 602.25 453.85 613.33 454.8 617" fill="none" stroke="#52bf95" stroke-width="1.15"/>
<path d="M267.9 559.5 C268.35 556.68 269.65 547.82 270.6 542.6 C271.55 537.38 272.62 532.78 273.6 528.2 C274.58 523.62 275.52 519.28 276.5 515.1 C277.48 510.92 278.5 506.48 279.5 503.1 C280.5 499.72 281.42 497.55 282.5 494.8 C283.58 492.05 284.82 489.05 286 486.6 C287.18 484.15 288.42 481.78 289.6 480.1 C290.78 478.42 291.92 477.5 293.1 476.5 C294.28 475.5 295.4 474.83 296.7 474.1 C298 473.37 299.5 472.9 300.9 472.1 C302.3 471.3 303.6 470.37 305.1 469.3 C306.6 468.23 308.52 466.68 309.9 465.7 C311.28 464.72 312.22 464 313.4 463.4 C314.58 462.8 315.9 462.4 317 462.1 C318.1 461.8 318.9 461.53 320 461.6 C321.1 461.67 322.4 462.05 323.6 462.5 C324.8 462.95 325.82 463.5 327.2 464.3 C328.58 465.1 330.32 466.45 331.9 467.3 C333.48 468.15 335.1 469 336.7 469.4 C338.3 469.8 339.9 469.8 341.5 469.7 C343.1 469.6 344.72 469.25 346.3 468.8 C347.88 468.35 349.62 467.47 351 467 C352.38 466.53 353.4 466.15 354.6 466 C355.8 465.85 356.7 465.82 358.2 466.1 C359.7 466.38 362.1 466.97 363.6 467.7 C365.1 468.43 366.02 469.53 367.2 470.5 C368.38 471.47 369.52 472.55 370.7 473.5 C371.88 474.45 373.1 475.5 374.3 476.2 C375.5 476.9 376.7 477.4 377.9 477.7 C379.1 478 380.3 478.18 381.5 478 C382.7 477.82 383.9 477.32 385.1 476.6 C386.3 475.88 387.52 474.78 388.7 473.7 C389.88 472.62 391.02 471.4 392.2 470.1 C393.38 468.8 394.5 467.47 395.8 465.9 C397.1 464.33 398.7 462.37 400 460.7 C401.3 459.03 402.4 457.4 403.6 455.9 C404.8 454.4 406.02 453.08 407.2 451.7 C408.38 450.32 409.52 448.73 410.7 447.6 C411.88 446.47 413.3 445.45 414.3 444.9 C415.3 444.35 415.9 444.3 416.7 444.3 C417.5 444.3 418.2 444.32 419.1 444.9 C420 445.48 421.1 446.47 422.1 447.8 C423.1 449.13 424.2 451.12 425.1 452.9 C426 454.68 426.7 456.4 427.5 458.5 C428.3 460.6 429.25 463.42 429.9 465.5 C430.55 467.58 430.93 469.08 431.4 471 C431.87 472.92 432.2 474.48 432.7 477 C433.2 479.52 433.77 482.68 434.4 486.1 C435.03 489.52 435.85 493.85 436.5 497.5 C437.15 501.15 437.68 504.25 438.3 508 C438.92 511.75 439.53 516 440.2 520 C440.87 524 441.62 528.08 442.3 532 C442.98 535.92 443.57 539.58 444.3 543.5 C445.03 547.42 445.7 550.7 446.7 555.5 C447.7 560.3 448.95 565.63 450.3 572.3 C451.65 578.97 454.05 591.63 454.8 595.5" fill="none" stroke="#dd772c" stroke-width="1.15"/>
<line x1="258.8" y1="390.85" x2="258.8" y2="636.45" stroke="#9a9a9a" stroke-width="0.9"/>
<line x1="258.8" y1="636" x2="464.4" y2="636" stroke="#9a9a9a" stroke-width="0.9"/>
<line x1="258.8" y1="391.3" x2="464.4" y2="391.3" stroke="#484848" stroke-width="0.9"/>
<line x1="464.4" y1="390.85" x2="464.4" y2="636.45" stroke="#484848" stroke-width="0.9"/>
<line x1="256.6" y1="636" x2="258.8" y2="636" stroke="#888888" stroke-width="0.8"/>
<text x="253.6" y="640.01" font-size="11.66" text-anchor="end" fill="#262626" textLength="7" lengthAdjust="spacingAndGlyphs" stroke="#262626" stroke-width="0.21">0</text>
<line x1="256.6" y1="586.94" x2="258.8" y2="586.94" stroke="#888888" stroke-width="0.8"/>
<text x="253.6" y="590.95" font-size="11.66" text-anchor="end" fill="#262626" textLength="14" lengthAdjust="spacingAndGlyphs" stroke="#262626" stroke-width="0.21">20</text>
<line x1="256.6" y1="537.87" x2="258.8" y2="537.87" stroke="#888888" stroke-width="0.8"/>
<text x="253.6" y="541.88" font-size="11.66" text-anchor="end" fill="#262626" textLength="14" lengthAdjust="spacingAndGlyphs" stroke="#262626" stroke-width="0.21">40</text>
<line x1="256.6" y1="488.81" x2="258.8" y2="488.81" stroke="#888888" stroke-width="0.8"/>
<text x="253.6" y="492.82" font-size="11.66" text-anchor="end" fill="#262626" textLength="14" lengthAdjust="spacingAndGlyphs" stroke="#262626" stroke-width="0.21">60</text>
<line x1="256.6" y1="439.75" x2="258.8" y2="439.75" stroke="#888888" stroke-width="0.8"/>
<text x="253.6" y="443.76" font-size="11.66" text-anchor="end" fill="#262626" textLength="14" lengthAdjust="spacingAndGlyphs" stroke="#262626" stroke-width="0.21">80</text>
<line x1="260.7" y1="636" x2="260.7" y2="638.4" stroke="#555555" stroke-width="0.8"/>
<text x="260.7" y="649.7" font-size="11.66" text-anchor="middle" fill="#262626" textLength="17.49" lengthAdjust="spacingAndGlyphs" stroke="#262626" stroke-width="0.21">0.0</text>
<line x1="307.3" y1="636" x2="307.3" y2="638.4" stroke="#555555" stroke-width="0.8"/>
<text x="307.3" y="649.7" font-size="11.66" text-anchor="middle" fill="#262626" textLength="17.49" lengthAdjust="spacingAndGlyphs" stroke="#262626" stroke-width="0.21">0.5</text>
<line x1="353.9" y1="636" x2="353.9" y2="638.4" stroke="#555555" stroke-width="0.8"/>
<text x="353.9" y="649.7" font-size="11.66" text-anchor="middle" fill="#262626" textLength="17.49" lengthAdjust="spacingAndGlyphs" stroke="#262626" stroke-width="0.21">1.0</text>
<line x1="400.5" y1="636" x2="400.5" y2="638.4" stroke="#555555" stroke-width="0.8"/>
<text x="400.5" y="649.7" font-size="11.66" text-anchor="middle" fill="#262626" textLength="17.49" lengthAdjust="spacingAndGlyphs" stroke="#262626" stroke-width="0.21">1.5</text>
<line x1="447.1" y1="636" x2="447.1" y2="638.4" stroke="#555555" stroke-width="0.8"/>
<text x="447.1" y="649.7" font-size="11.66" text-anchor="middle" fill="#262626" textLength="17.49" lengthAdjust="spacingAndGlyphs" stroke="#262626" stroke-width="0.21">2.0</text>
<text x="457.6" y="660.6" font-size="7" text-anchor="middle" fill="#262626" textLength="12.46" lengthAdjust="spacingAndGlyphs">1e6</text>
<text x="361.5" y="665.6" font-size="13.78" text-anchor="middle" fill="#262626" textLength="16.5" lengthAdjust="spacingAndGlyphs" stroke="#262626" stroke-width="0.26">bp</text>
<text x="234.2" y="514.9" font-size="13.78" text-anchor="middle" fill="#262626" textLength="67.16" lengthAdjust="spacingAndGlyphs" stroke="#262626" stroke-width="0.26" transform="rotate(-90 234.2 514.9)">Frequency</text>
<rect x="262.0" y="394.7" width="67.8" height="34.4" rx="1.4" fill="#ffffff" fill-opacity="0.8" stroke="#dcdcdc" stroke-width="0.8"/>
<text x="295.6" y="403.4" font-size="7.53" text-anchor="middle" fill="#262626" textLength="17.81" lengthAdjust="spacingAndGlyphs" stroke="#262626" stroke-width="0.1">TADs</text>
<rect x="265.0" y="409.0" width="15.1" height="5.5" fill="#d76d1b" fill-opacity="0.5" stroke="#000" stroke-width="0.6"/>
<text x="286.6" y="414.2" font-size="7.53" text-anchor="start" fill="#262626" textLength="15.08" lengthAdjust="spacingAndGlyphs" stroke="#262626" stroke-width="0.1">True</text>
<rect x="265.0" y="419.5" width="15.1" height="5.5" fill="#29c593" fill-opacity="0.5" stroke="#000" stroke-width="0.6"/>
<text x="286.6" y="425.2" font-size="7.53" text-anchor="start" fill="#262626" textLength="38.89" lengthAdjust="spacingAndGlyphs" stroke="#262626" stroke-width="0.1">EmbedTAD</text>
<text x="468.8" y="382.2" font-size="13.78" text-anchor="start" fill="#111" textLength="14.21" lengthAdjust="spacingAndGlyphs" stroke="#111" stroke-width="0.26">G.</text>
<rect x="500.72" y="399.77" width="18.54" height="203.43" fill="#49a883"/>
<text x="509.99" y="398.67" font-size="5.62" text-anchor="middle" fill="#111" textLength="16.76" lengthAdjust="spacingAndGlyphs" font-weight="bold" stroke="#111" stroke-width="0.28">93.05</text>
<rect x="523.89" y="442.11" width="18.54" height="161.09" fill="#3f8aab"/>
<text x="533.16" y="441.01" font-size="5.62" text-anchor="middle" fill="#111" textLength="15.17" lengthAdjust="spacingAndGlyphs" stroke="#111" stroke-width="0.08">73.68</text>
<rect x="547.07" y="478.76" width="18.54" height="124.44" fill="#dadb6f"/>
<text x="556.34" y="477.66" font-size="5.62" text-anchor="middle" fill="#111" textLength="15.17" lengthAdjust="spacingAndGlyphs" stroke="#111" stroke-width="0.08">56.92</text>
<rect x="570.24" y="435.38" width="18.54" height="167.82" fill="#cc7734"/>
<text x="579.51" y="434.28" font-size="5.62" text-anchor="middle" fill="#111" textLength="15.17" lengthAdjust="spacingAndGlyphs" stroke="#111" stroke-width="0.08">76.76</text>
<rect x="593.42" y="406.7" width="18.54" height="196.5" fill="#7cc4dc"/>
<text x="602.69" y="405.6" font-size="5.62" text-anchor="middle" fill="#111" textLength="15.17" lengthAdjust="spacingAndGlyphs" stroke="#111" stroke-width="0.08">89.88</text>
<rect x="616.59" y="407.96" width="18.54" height="195.24" fill="#cea342"/>
<text x="625.86" y="406.86" font-size="5.62" text-anchor="middle" fill="#111" textLength="15.17" lengthAdjust="spacingAndGlyphs" stroke="#111" stroke-width="0.08">89.30</text>
<rect x="639.77" y="442.44" width="18.54" height="160.76" fill="#cf92ba"/>
<text x="649.04" y="441.34" font-size="5.62" text-anchor="middle" fill="#111" textLength="15.17" lengthAdjust="spacingAndGlyphs" stroke="#111" stroke-width="0.08">73.53</text>
<rect x="662.94" y="448.61" width="18.54" height="154.59" fill="#000000"/>
<text x="672.21" y="447.51" font-size="5.62" text-anchor="middle" fill="#111" textLength="15.17" lengthAdjust="spacingAndGlyphs" stroke="#111" stroke-width="0.08">70.71</text>
<line x1="498.4" y1="389.15" x2="498.4" y2="603.65" stroke="#505050" stroke-width="0.9"/>
<line x1="498.4" y1="603.2" x2="683.8" y2="603.2" stroke="#9a9a9a" stroke-width="0.9"/>
<line x1="498.4" y1="389.6" x2="683.8" y2="389.6" stroke="#6e6e6e" stroke-width="0.9"/>
<line x1="683.8" y1="389.15" x2="683.8" y2="603.65" stroke="#9a9a9a" stroke-width="0.9"/>
<line x1="496.4" y1="603.2" x2="498.4" y2="603.2" stroke="#3a3a3a" stroke-width="0.6"/>
<text x="495" y="605.13" font-size="5.62" text-anchor="end" fill="#262626" textLength="3.37" lengthAdjust="spacingAndGlyphs">0</text>
<line x1="496.4" y1="559.47" x2="498.4" y2="559.47" stroke="#3a3a3a" stroke-width="0.6"/>
<text x="495" y="561.41" font-size="5.62" text-anchor="end" fill="#262626" textLength="6.74" lengthAdjust="spacingAndGlyphs">20</text>
<line x1="496.4" y1="515.75" x2="498.4" y2="515.75" stroke="#3a3a3a" stroke-width="0.6"/>
<text x="495" y="517.68" font-size="5.62" text-anchor="end" fill="#262626" textLength="6.74" lengthAdjust="spacingAndGlyphs">40</text>
<line x1="496.4" y1="472.02" x2="498.4" y2="472.02" stroke="#3a3a3a" stroke-width="0.6"/>
<text x="495" y="473.95" font-size="5.62" text-anchor="end" fill="#262626" textLength="6.74" lengthAdjust="spacingAndGlyphs">60</text>
<line x1="496.4" y1="428.3" x2="498.4" y2="428.3" stroke="#3a3a3a" stroke-width="0.6"/>
<text x="495" y="430.23" font-size="5.62" text-anchor="end" fill="#262626" textLength="6.74" lengthAdjust="spacingAndGlyphs">80</text>
<line x1="509.99" y1="603.2" x2="509.99" y2="605.2" stroke="#3a3a3a" stroke-width="0.6"/>
<text x="518.75" y="609.29" font-size="9.65" text-anchor="end" fill="#262626" textLength="49.85" lengthAdjust="spacingAndGlyphs" stroke="#262626" stroke-width="0.16" transform="rotate(-75 518.75 609.29)">EmbedTAD</text>
<line x1="533.16" y1="603.2" x2="533.16" y2="605.2" stroke="#3a3a3a" stroke-width="0.6"/>
<text x="540.63" y="609.29" font-size="9.65" text-anchor="end" fill="#262626" textLength="39.92" lengthAdjust="spacingAndGlyphs" stroke="#262626" stroke-width="0.16" transform="rotate(-75 540.63 609.29)">IC Finder</text>
<line x1="556.34" y1="603.2" x2="556.34" y2="605.2" stroke="#3a3a3a" stroke-width="0.6"/>
<text x="565.16" y="609.29" font-size="9.65" text-anchor="end" fill="#262626" textLength="50.38" lengthAdjust="spacingAndGlyphs" stroke="#262626" stroke-width="0.16" transform="rotate(-75 565.16 609.29)">ClusterTAD</text>
<line x1="579.51" y1="603.2" x2="579.51" y2="605.2" stroke="#3a3a3a" stroke-width="0.6"/>
<text x="586.94" y="609.29" font-size="9.65" text-anchor="end" fill="#262626" textLength="39.56" lengthAdjust="spacingAndGlyphs" stroke="#262626" stroke-width="0.16" transform="rotate(-75 586.94 609.29)">CASPIAN</text>
<line x1="602.69" y1="603.2" x2="602.69" y2="605.2" stroke="#3a3a3a" stroke-width="0.6"/>
<text x="609.75" y="609.29" font-size="9.65" text-anchor="end" fill="#262626" textLength="36.8" lengthAdjust="spacingAndGlyphs" stroke="#262626" stroke-width="0.16" transform="rotate(-75 609.75 609.29)">TopDom</text>
<line x1="625.86" y1="603.2" x2="625.86" y2="605.2" stroke="#3a3a3a" stroke-width="0.6"/>
<text x="633.13" y="609.29" font-size="9.65" text-anchor="end" fill="#262626" textLength="38.33" lengthAdjust="spacingAndGlyphs" stroke="#262626" stroke-width="0.16" transform="rotate(-75 633.13 609.29)">Armatus</text>
<line x1="649.04" y1="603.2" x2="649.04" y2="605.2" stroke="#3a3a3a" stroke-width="0.6"/>
<text x="655.46" y="609.29" font-size="9.65" text-anchor="end" fill="#262626" textLength="31.84" lengthAdjust="spacingAndGlyphs" stroke="#262626" stroke-width="0.16" transform="rotate(-75 655.46 609.29)">HiCseg</text>
<line x1="672.21" y1="603.2" x2="672.21" y2="605.2" stroke="#3a3a3a" stroke-width="0.6"/>
<text x="679.38" y="609.29" font-size="9.65" text-anchor="end" fill="#262626" textLength="37.57" lengthAdjust="spacingAndGlyphs" stroke="#262626" stroke-width="0.16" transform="rotate(-75 679.38 609.29)">Spectral</text>
<text x="591.1" y="668.3" font-size="11.24" text-anchor="middle" fill="#262626" textLength="30.67" lengthAdjust="spacingAndGlyphs" stroke="#262626" stroke-width="0.2">Caller</text>
<text x="485.7" y="497.5" font-size="12.3" text-anchor="middle" fill="#262626" textLength="25.21" lengthAdjust="spacingAndGlyphs" stroke="#262626" stroke-width="0.23" transform="rotate(-90 485.7 497.5)">MoC</text>
</svg>
</body></html>
